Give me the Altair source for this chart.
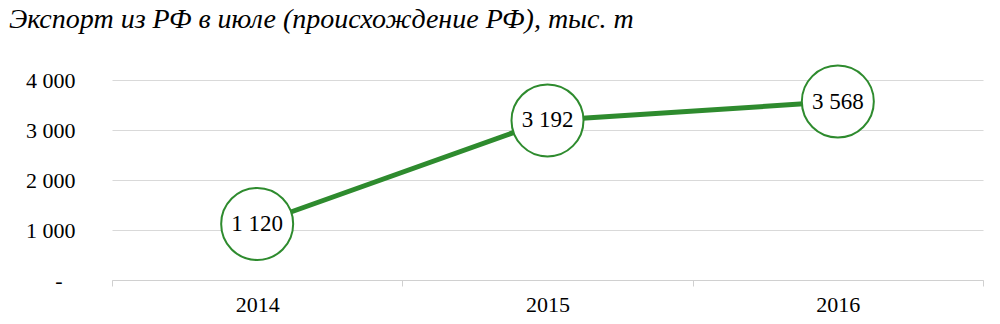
import altair as alt
import pandas as pd

years = ["2014", "2015", "2016"]
values = [1120, 3192, 3568]
labels = ["1 120", "3 192", "3 568"]
title_text = "Экспорт из РФ в июле (происхождение РФ), тыс. т"

df = pd.DataFrame({"year": years, "value": values, "label": labels})

GREEN = "#2E8B2E"
FONT = "Liberation Serif"

x = alt.X("year:N", sort=years, title=None,
          scale=alt.Scale(type="band", paddingInner=0, paddingOuter=0),
          axis=alt.Axis(labelAngle=0, tickBand="extent", domainColor="#d0d0d0",
                        tickColor="#d0d0d0", tickSize=6, labelFontSize=22,
                        labelFont=FONT, labelColor="#000000", labelPadding=8,
                        grid=False))
y = alt.Y("value:Q", title=None,
          scale=alt.Scale(domain=[0, 4000], nice=False),
          axis=alt.Axis(values=[0, 1000, 2000, 3000, 4000], domain=False, ticks=False,
                        gridColor="#d9d9d9", labelFontSize=22, labelFont=FONT,
                        labelColor="#000000",
                        labelPadding={"condition": {"test": "datum.value == 0", "value": 50}, "value": 37},
                        labelExpr="datum.value == 0 ? '-' : replace(format(datum.value, ','), ',', ' ')"))

base = alt.Chart(df)
line = base.mark_line(color=GREEN, strokeWidth=5).encode(x=x, y=y)
pts = base.mark_point(shape="circle", size=5184, filled=True, fill="white",
                      stroke=GREEN, strokeWidth=2, opacity=1).encode(x=x, y=y)
txt = base.mark_text(font=FONT, fontSize=23, color="#000000").encode(x=x, y=y, text="label:N")
title = alt.Chart(pd.DataFrame({"t": [title_text]})).mark_text(
    font=FONT, fontSize=28, fontStyle="italic", align="left", baseline="alphabetic",
    color="#000000").encode(x=alt.value(-103), y=alt.value(-52), text="t:N")

chart = alt.layer(line, pts, txt, title).properties(
    width=871, height=200,
    autosize=alt.AutoSizeParams(type="none"),
    padding={"left": 112, "top": 80, "right": 17, "bottom": 44},
).configure_view(stroke=None)

chart.save("out.html", embed_options={"renderer": "svg", "actions": False})
